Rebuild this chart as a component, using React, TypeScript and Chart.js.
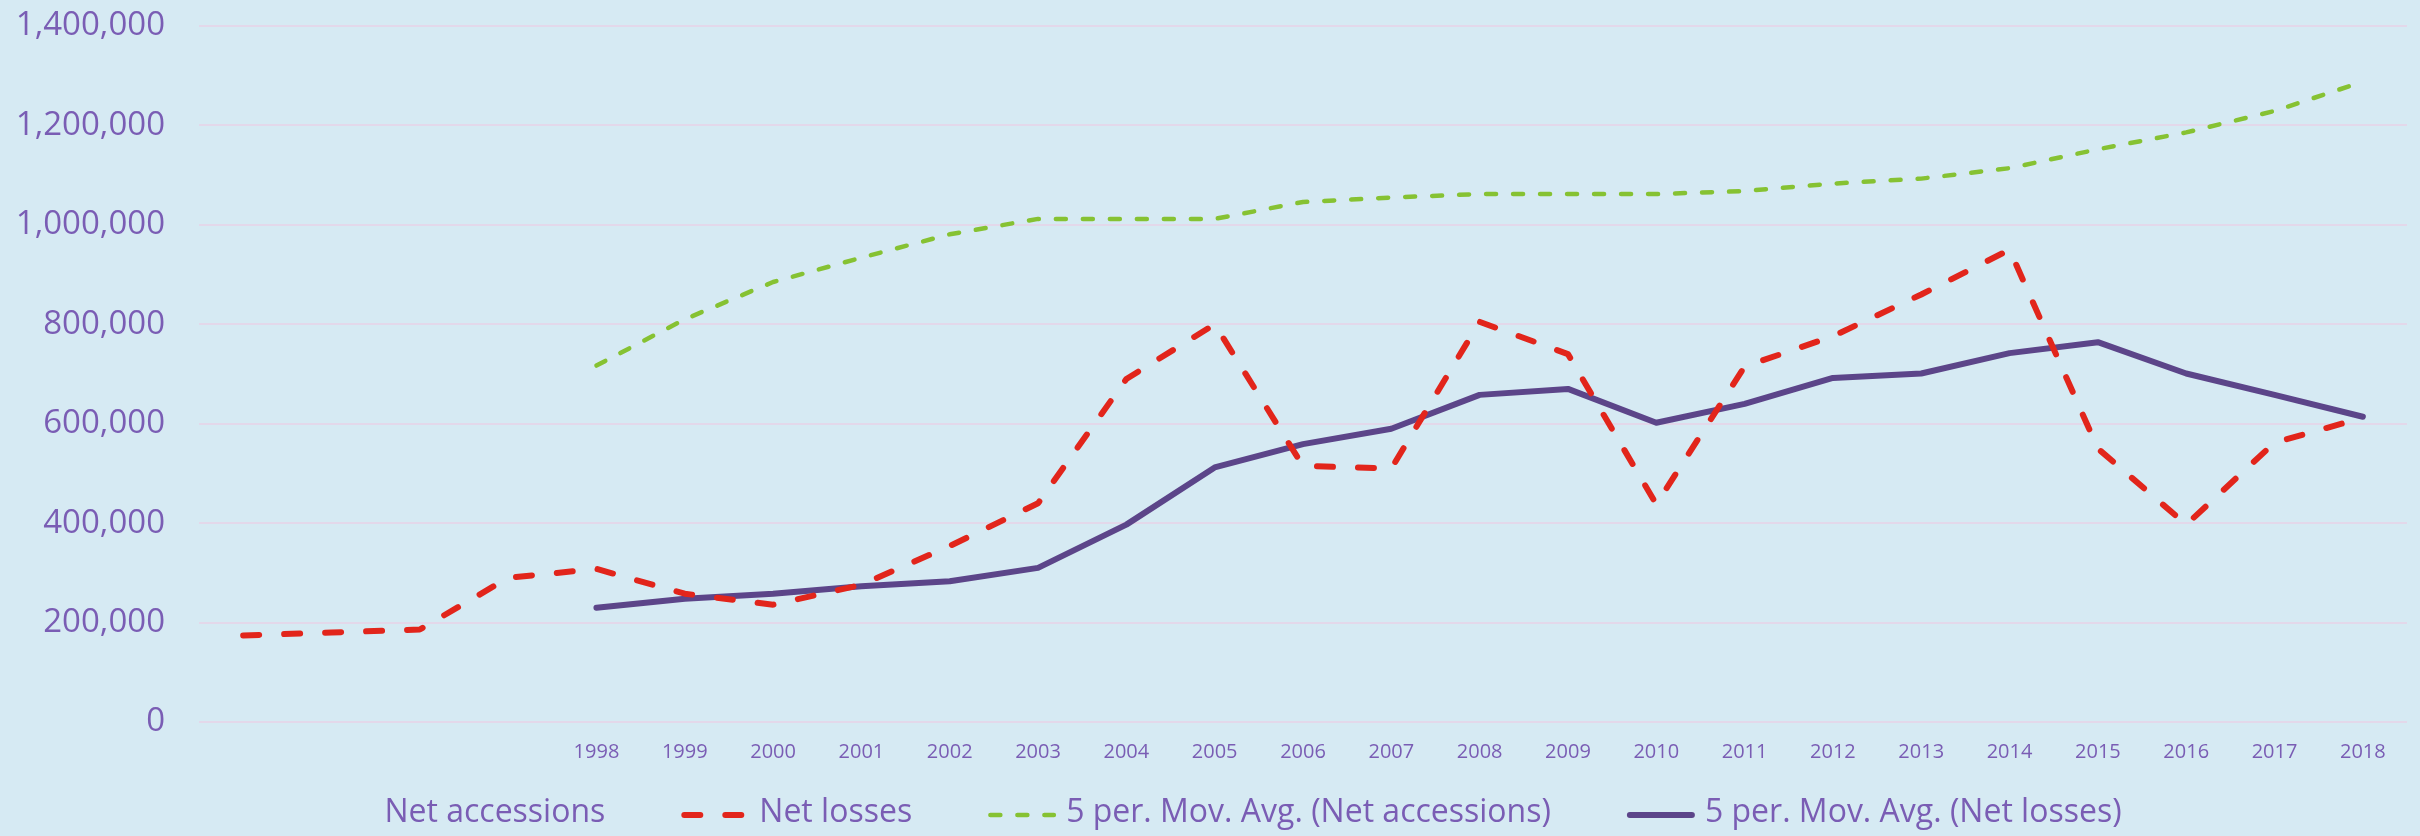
import React, { useEffect, useRef } from "react";
import { Chart, registerables } from "chart.js";

Chart.register(...registerables);

const categories = ["", "", "", "", "1998", "1999", "2000", "2001", "2002", "2003", "2004", "2005", "2006", "2007", "2008", "2009", "2010", "2011", "2012", "2013", "2014", "2015", "2016", "2017", "2018"];

const netAccessions = [null, null, null, null, null, null, null, null, null, null, null, null, null, null, null, null, null, null, null, null, null, null, null, null, null];

const netLosses = [174000, 180000, 186000, 290000, 308000, 258000, 236000, 276000, 354000, 440000, 690000, 800000, 515000, 510000, 805000, 740000, 438000, 715000, 776000, 860000, 950000, 550000, 397000, 562000, 612000];

const maNetAccessions = [null, null, null, null, 717000, 810000, 885000, 934000, 981000, 1012000, 1012000, 1012000, 1046000, 1055000, 1062000, 1062000, 1062000, 1068000, 1083000, 1093000, 1114000, 1152000, 1186000, 1229000, 1288000];

const maNetLosses = [null, null, null, null, 230000, 248000, 258000, 273000, 283000, 310000, 397000, 512000, 559000, 590000, 658000, 670000, 602000, 640000, 692000, 701000, 742000, 764000, 701000, 658000, 614000];

const yTicks = [0, 200000, 400000, 600000, 800000, 1000000, 1200000, 1400000];

const TEXT = "#7A5DB4";
const FONT = "'Open Sans', 'Noto Sans', sans-serif";

const legendPlugin = {
  id: "customLegend",
  afterDraw(chart: any) {
    const ctx = chart.ctx as CanvasRenderingContext2D;
    ctx.save();
    ctx.font = `32px ${FONT}`;
    ctx.textBaseline = "middle";
    ctx.textAlign = "left";
    const markerW = 68;
    const gap = 10;
    const itemGap = 76;
    const y = 813;
    const items = chart.data.datasets.map((ds: any) => ({
      text: ds.label as string,
      color: ds.borderColor as string,
      width: ds.borderWidth as number,
      dash: (ds.borderDash || []) as number[],
      cap: (ds.borderCapStyle || "butt") as CanvasLineCap,
    }));
    const widths = items.map((it: any) => markerW + gap + ctx.measureText(it.text).width);
    const total = widths.reduce((a: number, b: number) => a + b, 0) + itemGap * (items.length - 1);
    let x = 1214 - total / 2;
    items.forEach((it: any, i: number) => {
      if (it.width > 0) {
        ctx.beginPath();
        ctx.strokeStyle = it.color;
        ctx.lineWidth = it.width;
        ctx.lineCap = it.cap;
        ctx.setLineDash(it.dash);
        const inset = it.cap === "round" ? it.width / 2 : 0;
        ctx.moveTo(x + inset, y + 2);
        ctx.lineTo(x + markerW - inset, y + 2);
        ctx.stroke();
        ctx.setLineDash([]);
      }
      ctx.fillStyle = TEXT;
      ctx.fillText(it.text, x + markerW + gap, y);
      x += widths[i] + itemGap;
    });
    ctx.restore();
  },
};

export default function App() {
  const ref = useRef<HTMLCanvasElement | null>(null);

  useEffect(() => {
    if (!ref.current) return;
    const chart = new Chart(ref.current, {
      type: "line",
      data: {
        labels: categories,
        datasets: [
          {
            label: "Net accessions",
            data: netAccessions,
            borderColor: "rgba(0,0,0,0)",
            backgroundColor: "rgba(0,0,0,0)",
            borderWidth: 0,
            pointRadius: 0,
          },
          {
            label: "Net losses",
            data: netLosses,
            borderColor: "#E2251B",
            backgroundColor: "#E2251B",
            borderWidth: 6,
            borderDash: [16, 25],
            borderCapStyle: "round",
            borderJoinStyle: "round",
            pointRadius: 0,
            tension: 0,
          },
          {
            label: "5 per. Mov. Avg. (Net accessions)",
            data: maNetAccessions,
            borderColor: "#86C232",
            backgroundColor: "#86C232",
            borderWidth: 4.5,
            borderDash: [10, 17],
            borderCapStyle: "round",
            borderJoinStyle: "round",
            pointRadius: 0,
            tension: 0,
          },
          {
            label: "5 per. Mov. Avg. (Net losses)",
            data: maNetLosses,
            borderColor: "#5C4589",
            backgroundColor: "#5C4589",
            borderWidth: 6,
            borderCapStyle: "round",
            borderJoinStyle: "round",
            pointRadius: 0,
            tension: 0,
          },
        ],
      },
      options: {
        animation: false,
        responsive: false,
        maintainAspectRatio: false,
        layout: { padding: { left: 0, right: 13, top: 26, bottom: 54 } },
        plugins: {
          legend: { display: false },
          tooltip: { enabled: false },
        },
        scales: {
          x: {
            type: "category",
            offset: true,
            grid: { display: false, drawTicks: false },
            border: { display: false },
            ticks: {
              color: TEXT,
              font: { family: FONT, size: 20 },
              autoSkip: false,
              maxRotation: 0,
              minRotation: 0,
              padding: 18,
            },
            afterFit: (scale: any) => {
              scale.height = 60;
            },
          },
          y: {
            min: 0,
            max: 1400000,
            afterBuildTicks: (scale: any) => {
              scale.ticks = yTicks.map((v) => ({ value: v }));
            },
            grid: { color: "#E3D8EA", lineWidth: 2, drawTicks: false },
            border: { display: false },
            ticks: {
              color: TEXT,
              font: { family: FONT, size: 33 },
              padding: 34,
              callback: (v: any) => Number(v).toLocaleString("en-US"),
            },
            afterFit: (scale: any) => {
              scale.width = 199;
              scale.paddingTop = 0;
              scale.paddingBottom = 0;
            },
          },
        },
      },
      plugins: [legendPlugin],
    });
    return () => chart.destroy();
  }, []);

  return (
    <div style={{ position: "fixed", left: 0, top: 0, width: 2420, height: 836, background: "#D6EAF3" }}>
      <canvas ref={ref} width={2420} height={836} style={{ width: 2420, height: 836, display: "block" }} />
    </div>
  );
}
